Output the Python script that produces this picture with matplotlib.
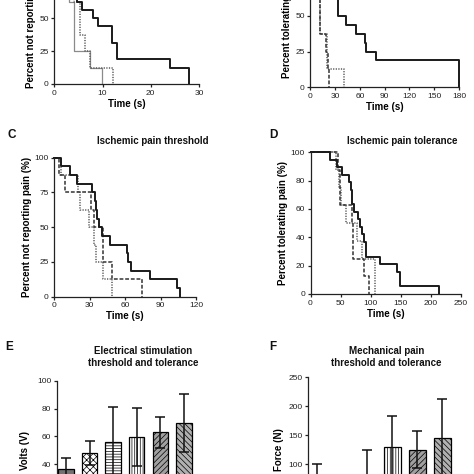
import matplotlib.pyplot as plt

plt.rcParams['font.family'] = ['Liberation Sans', 'DejaVu Sans']
plt.rcParams['hatch.linewidth'] = 0.5

# Panel A: cold pain threshold (top of the panel is cropped)
a_black_t = [0, 2.5, 3.5, 4.0, 4.4, 4.8, 5.7, 8.0, 9.1, 12.0, 12.9, 24.0, 28.0]
a_black_s = [100, 93.75, 87.5, 81.25, 75, 62.5, 56.25, 50, 43.75, 31.25, 18.75, 12.5, 0]
a_gray_t = [0, 2.0, 2.5, 3.0, 4.1, 7.5, 9.8]
a_gray_s = [100, 87.5, 75, 62.5, 25, 12.5, 0]
a_dot_t = [0, 2.5, 3.5, 4.1, 5.4, 6.4, 7.5, 12.2]
a_dot_s = [100, 87.5, 75, 62.5, 37.5, 25, 12.5, 0]

# Panel B: cold pain tolerance
b_black_t = [0, 8, 15, 20, 25, 33, 43, 55, 66, 68, 79.5, 180]
b_black_s = [100, 93.75, 87.5, 75, 62.5, 50, 43.75, 37.5, 31.25, 25, 18.75, 0]
b_dash_t = [0, 6, 9, 11.5, 18.6, 21, 22.7]
b_dash_s = [100, 87.5, 75, 37.5, 25, 12.5, 0]
b_dot_t = [0, 7, 10, 12.3, 19.8, 41]
b_dot_s = [100, 87.5, 62.5, 37.5, 12.5, 0]

# Panel C: ischemic pain threshold
c_black_t = [0, 5.6, 13.3, 19, 31.7, 34.3, 35.3, 36.2, 37.5, 40, 47, 61.3, 62.7, 64.7, 81.1, 104.3, 106.7]
c_black_s = [100, 93.75, 87.5, 81.25, 75, 68.75, 62.5, 56.25, 50, 43.75, 37.5, 31.25, 25, 18.75, 12.5, 6.25, 0]
c_dash_t = [0, 3.6, 9.2, 31, 33.4, 41.2, 48.8, 74]
c_dash_s = [100, 87.5, 75, 62.5, 50, 25, 12.5, 0]
c_dot_t = [0, 5.7, 19.7, 21.4, 29, 33.4, 34.9, 41, 48.8]
c_dot_s = [100, 87.5, 75, 62.5, 50, 37.5, 25, 12.5, 0]

# Panel D: ischemic pain tolerance
d_black_t = [0, 33, 44, 53, 64, 67, 69.5, 72.5, 79, 82, 85, 88.5, 92.5, 115, 143, 148, 213]
d_black_s = [100, 94.7, 89.5, 84.2, 78.9, 73.7, 63.2, 57.9, 52.6, 47.4, 42.1, 36.8, 26.3, 21.1, 15.8, 5.3, 0]
d_dash_t = [0, 46, 49.5, 69, 71, 88.5, 96.5]
d_dash_s = [100, 87.5, 62.5, 50, 25, 12.5, 0]
d_dot_t = [0, 43, 47, 51, 59, 77, 86, 107]
d_dot_s = [100, 87.5, 75, 62.5, 50, 37.5, 25, 0]

# Panel E: electrical stimulation (mean, SD)
e_mean = [36.4, 47.9, 56.2, 59.7, 62.9, 69.7]
e_sd = [8.1, 8.7, 24.7, 21.0, 11.3, 20.7]

# Panel F: mechanical pain (mean, SD)
f_mean = [68, 58, 80, 129.2, 125.2, 145.8]
f_sd = [33, 22, 44, 53.3, 32.0, 66.0]

# bar fill styles, left to right
bar_face = ['#727272', 'white', 'white', 'white', '#a0a0a0', '#b0b0b0']
bar_hatch = [None, 'xxxxx', '------', '||||||', '//////', '\\\\\\\\\\\\']

W, H = 474, 474
fig = plt.figure(figsize=(W / 100, H / 100), dpi=100)
ink = '#222222'


def add_ax(x0, x1, ytop, ybot):
    return fig.add_axes([x0 / W, 1 - ybot / H, (x1 - x0) / W, (ybot - ytop) / H])


def style(ax):
    ax.spines['top'].set_visible(False)
    ax.spines['right'].set_visible(False)
    for s in ['left', 'bottom']:
        ax.spines[s].set_linewidth(0.9)
        ax.spines[s].set_color(ink)
    ax.tick_params(direction='out', length=2.5, width=0.9, labelsize=6,
                   color=ink, labelcolor=ink, pad=1.5)


def km(ax, t, s, kind):
    if kind == 'black':
        ax.plot(t, s, drawstyle='steps-post', color='#1a1a1a', lw=1.4, clip_on=False)
    elif kind == 'gray':
        ax.plot(t, s, drawstyle='steps-post', color='#8a8a8a', lw=0.9, clip_on=False)
    elif kind == 'dash':
        ax.plot(t, s, drawstyle='steps-post', color='#333333', lw=1.1,
                ls=(0, (2.5, 1.2)), clip_on=False)
    else:
        ax.plot(t, s, drawstyle='steps-post', color='#5a5a5a', lw=1.1,
                ls=(0, (0.8, 0.9)), clip_on=False)


def km_labels(ax, ylab):
    ax.set_xlabel('Time (s)', fontsize=7, fontweight='bold', labelpad=1.5)
    ax.set_ylabel(ylab, fontsize=7, fontweight='bold', labelpad=2)


# A
ax = add_ax(54.3, 199, -48, 84)
km(ax, a_gray_t, a_gray_s, 'gray')
km(ax, a_dot_t, a_dot_s, 'dot')
km(ax, a_black_t, a_black_s, 'black')
ax.set_xlim(0, 30)
ax.set_ylim(0, 100)
ax.set_xticks([0, 10, 20, 30])
ax.set_yticks([0, 25, 50])
style(ax)
km_labels(ax, 'Percent not reporting pain (%)')

# B
ax = add_ax(310.3, 459, -55.9, 87.3)
km(ax, b_dot_t, b_dot_s, 'dot')
km(ax, b_dash_t, b_dash_s, 'dash')
km(ax, b_black_t, b_black_s, 'black')
ax.set_xlim(0, 180)
ax.set_ylim(0, 100)
ax.set_xticks([0, 30, 60, 90, 120, 150, 180])
ax.set_yticks([0, 25, 50])
style(ax)
km_labels(ax, 'Percent tolerating pain (%)')

# C
ax = add_ax(54.3, 196, 157.7, 296.7)
km(ax, c_dot_t, c_dot_s, 'dot')
km(ax, c_dash_t, c_dash_s, 'dash')
km(ax, c_black_t, c_black_s, 'black')
ax.set_xlim(0, 120)
ax.set_ylim(0, 100)
ax.set_xticks([0, 30, 60, 90, 120])
ax.set_yticks([0, 25, 50, 75, 100])
style(ax)
km_labels(ax, 'Percent not reporting pain (%)')

# D
ax = add_ax(310.5, 461, 152.3, 294)
km(ax, d_dot_t, d_dot_s, 'dot')
km(ax, d_dash_t, d_dash_s, 'dash')
km(ax, d_black_t, d_black_s, 'black')
ax.set_xlim(0, 250)
ax.set_ylim(0, 100)
ax.set_xticks([0, 50, 100, 150, 200, 250])
ax.set_yticks([0, 20, 40, 60, 80, 100])
style(ax)
km_labels(ax, 'Percent tolerating pain (%)')


def bars(ax, means, sds, width):
    x = list(range(len(means)))
    for i in x:
        ax.bar(i, means[i], width=width, color=bar_face[i], edgecolor='black',
               linewidth=0.9, hatch=bar_hatch[i], zorder=2)
    ax.errorbar(x, means, yerr=sds, fmt='none', ecolor='#111111', elinewidth=1.1,
                capsize=3.3, capthick=1.1, zorder=3)
    ax.set_xticks([])


# E
ax = add_ax(57, 195.6, 380.7, 520)
bars(ax, e_mean, e_sd, 0.66)
ax.set_xlim(-0.385, 5.5)
ax.set_ylim(0, 100)
ax.set_yticks([0, 20, 40, 60, 80, 100])
style(ax)
ax.spines['bottom'].set_visible(False)
ax.set_ylabel('Volts (V)', fontsize=7, fontweight='bold', labelpad=5)

# F
ax = add_ax(308.3, 454.8, 377.1, 522.3)
bars(ax, f_mean, f_sd, 0.68)
ax.set_xlim(-0.36, 5.5)
ax.set_ylim(0, 250)
ax.set_yticks([0, 50, 100, 150, 200, 250])
style(ax)
ax.spines['bottom'].set_visible(False)
ax.set_ylabel('Force (N)', fontsize=7, fontweight='bold', labelpad=3)


# titles and panel letters
def ftext(x, y, s, **kw):
    fig.text(x / W, 1 - y / H, s, fontweight='bold', color='#111111', **kw)


ftext(153, 140.7, 'Ischemic pain threshold', fontsize=7, ha='center', va='center')
ftext(402, 140.7, 'Ischemic pain tolerance', fontsize=7, ha='center', va='center')
ftext(143, 357.5, 'Electrical stimulation\nthreshold and tolerance', fontsize=7,
      ha='center', va='center', linespacing=1.25)
ftext(386.3, 357.5, 'Mechanical pain\nthreshold and tolerance', fontsize=7,
      ha='center', va='center', linespacing=1.25)
ftext(7.5, 135, 'C', fontsize=8.5, ha='left', va='center')
ftext(269, 135, 'D', fontsize=8.5, ha='left', va='center')
ftext(5, 346.7, 'E', fontsize=8.5, ha='left', va='center')
ftext(269, 346.7, 'F', fontsize=8.5, ha='left', va='center')

fig.savefig('out.png', dpi=100)
